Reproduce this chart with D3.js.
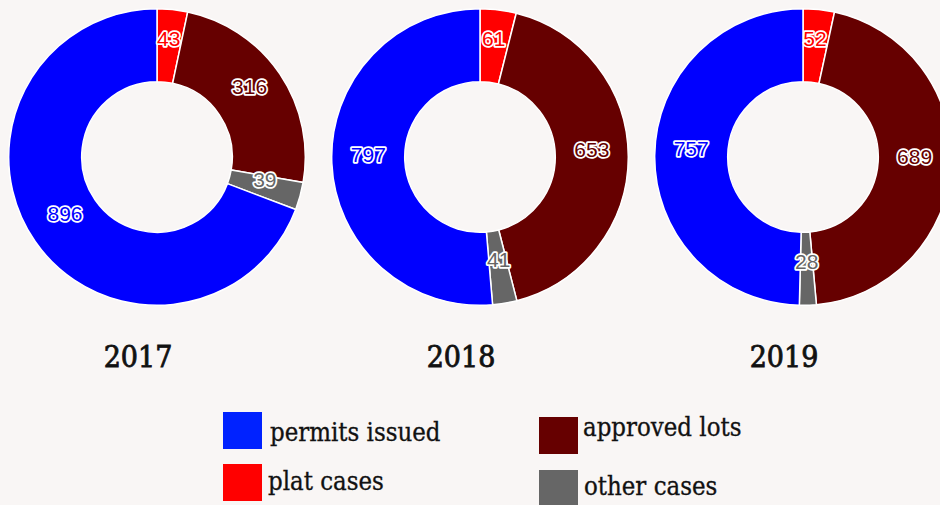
<!DOCTYPE html>
<html>
<head>
<meta charset="utf-8">
<script src="https://cdn.jsdelivr.net/npm/d3@7"></script>
<style>
  html, body { margin: 0; padding: 0; background: #f9f6f5; overflow: hidden; }
  svg { display: block; }
</style>
</head>
<body>
<svg id="chart" width="940" height="505"></svg>
<script>
const years = ["2017", "2018", "2019"];
const categories = ["plat cases", "approved lots", "other cases", "permits issued"];
const sliceColors = ["#ff0000", "#660000", "#666666", "#0000ff"];
const values2017 = [43, 316, 39, 896];
const values2018 = [61, 653, 41, 797];
const values2019 = [52, 689, 28, 757];
const seriesValues = [values2017, values2018, values2019];

const legendItems = ["permits issued", "approved lots", "plat cases", "other cases"];
const legendColors = ["#0022ff", "#660000", "#ff0000", "#666666"];

const svg = d3.select("#chart");

const outerR = 148.3, innerR = 75.3;
const cy = 157;
const centerX = d3.scalePoint().domain(years).range([157, 803]);
const yearX = d3.scalePoint().domain(years).range([138, 784]);
const color = d3.scaleOrdinal().domain(categories).range(sliceColors);

const pie = d3.pie().sort(null).value(d => d.value);
const arc = d3.arc().innerRadius(innerR).outerRadius(outerR);

years.forEach((yr, i) => {
  const data = categories.map((c, j) => ({ cat: c, value: seriesValues[i][j] }));
  const g = svg.append("g").attr("transform", `translate(${centerX(yr)},${cy})`);
  const arcs = pie(data);
  g.selectAll("path").data(arcs).join("path")
    .attr("d", arc)
    .attr("fill", d => color(d.data.cat))
    .attr("stroke", "#ffffff")
    .attr("stroke-width", 1.5);
  g.selectAll("text").data(arcs).join("text")
    .attr("transform", d => `translate(${arc.centroid(d)})`)
    .attr("text-anchor", "middle")
    .attr("font-family", "'Liberation Sans', Arial, sans-serif")
    .attr("font-size", 21)
    .attr("fill", d => color(d.data.cat))
    .attr("stroke", "#ffffff")
    .attr("stroke-width", 3.5)
    .attr("stroke-linejoin", "round")
    .attr("paint-order", "stroke")
    .text(d => d.data.value);

  svg.append("text")
    .attr("x", yearX(yr))
    .attr("y", 367)
    .attr("text-anchor", "middle")
    .attr("font-family", "'DejaVu Serif Condensed', 'DejaVu Serif', serif")
    .attr("font-size", 30)
    .attr("fill", "#111")
    .attr("stroke", "#111")
    .attr("stroke-width", 0.8)
    .text(yr);
});

// legend
const legendPos = [
  { sx: 223, sy: 412, tx: 270, ty: 441 },
  { sx: 539, sy: 417, tx: 583, ty: 436 },
  { sx: 223, sy: 464, tx: 268, ty: 490 },
  { sx: 539, sy: 470, tx: 584, ty: 495 }
];
legendItems.forEach((name, i) => {
  const p = legendPos[i];
  svg.append("rect")
    .attr("x", p.sx).attr("y", p.sy)
    .attr("width", 39).attr("height", 37)
    .attr("fill", legendColors[i]);
  svg.append("text")
    .attr("x", p.tx).attr("y", p.ty)
    .attr("font-family", "'DejaVu Serif Condensed', 'DejaVu Serif', serif")
    .attr("font-size", 25.5)
    .attr("fill", "#111")
    .attr("stroke", "#111")
    .attr("stroke-width", 0.3)
    .text(name);
});
</script>
</body>
</html>
